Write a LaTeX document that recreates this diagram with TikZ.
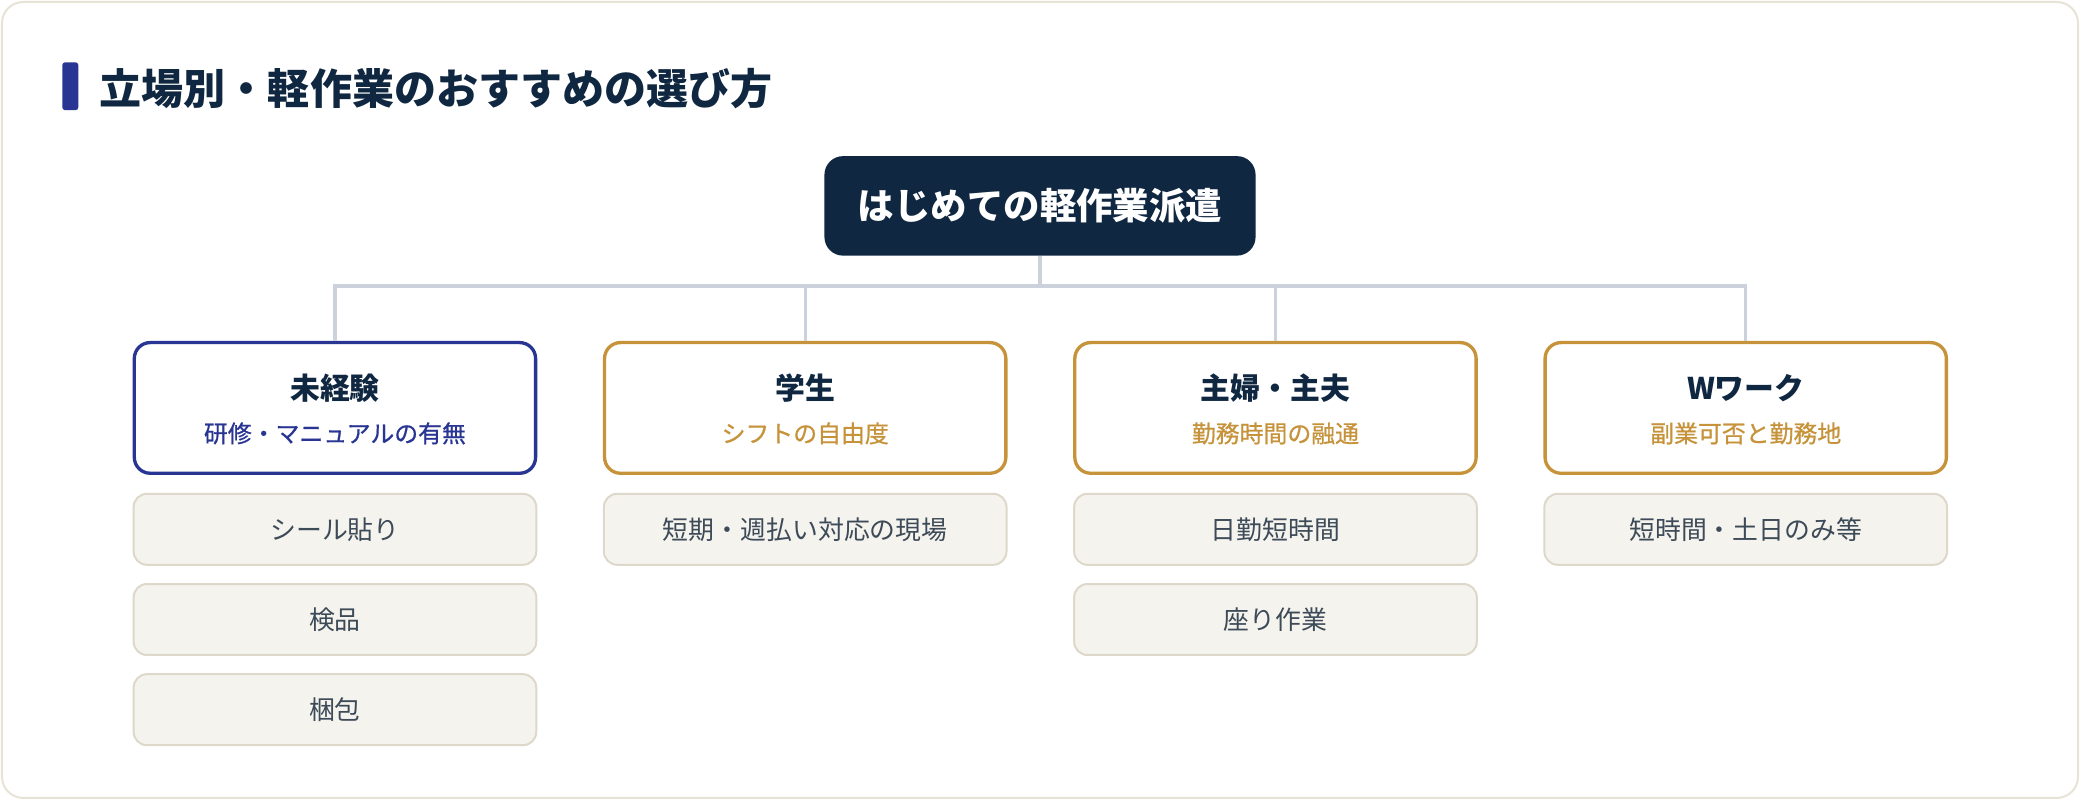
\documentclass[tikz,border=0pt]{standalone}
\usepackage{fontspec}
\setmainfont{Noto Sans CJK JP}
\definecolor{navy}{HTML}{0F2740}
\definecolor{indigo}{HTML}{283593}
\definecolor{gold}{HTML}{C6923A}
\definecolor{conn}{HTML}{CBD2DB}
\definecolor{itembg}{HTML}{F5F3EE}
\definecolor{itemline}{HTML}{DDD8C9}
\definecolor{itemtext}{HTML}{3D4A57}
\definecolor{frame}{HTML}{E7E3D7}
\tikzset{
  catbox/.style={draw, line width=2.5pt, rounded corners=12pt, fill=white, minimum width=302.5pt, minimum height=98.5pt, inner sep=0pt},
  cattitle/.style={text=navy, font=\fontsize{22.5}{26}\selectfont\bfseries, inner sep=0pt, anchor=center},
  catsub/.style={font=\fontsize{18}{21}\selectfont\addfontfeature{FakeBold=0.7}, inner sep=0pt, anchor=center},
  itembox/.style={draw=itemline, fill=itembg, line width=1.5pt, rounded corners=10pt, minimum width=303.5pt, minimum height=53.5pt, inner sep=0pt, text=itemtext, font=\fontsize{19.5}{22}\selectfont},
  link/.style={draw=conn, line width=2.5pt, line join=miter}
}
\begin{document}
\begin{tikzpicture}[x=1pt,y=-1pt]
\useasboundingbox (0,0) rectangle (1568,603);
\fill[white] (0,0) rectangle (1568,603);
\draw[frame, line width=1.5pt, rounded corners=16pt, fill=white] (1.5,1.5) rectangle (1566.5,601.5);
% title
\fill[indigo, rounded corners=2pt] (47,47) rectangle (59,83);
\node[anchor=west, inner sep=0pt, text=navy, font=\fontsize{31.7}{38}\selectfont\bfseries] (title) at (75,66.4) {立場別・軽作業のおすすめの選び方};
% root
\node[fill=navy, rounded corners=14pt, minimum width=325pt, minimum height=75pt, inner sep=0pt, text=white, font=\fontsize{27.5}{32}\selectfont\bfseries] (root) at (784,155.2) {はじめての軽作業派遣};
% categories
\node[catbox, draw=indigo] (c1) at (252.5,307.5) {};
\node[catbox, draw=gold] (c2) at (607,307.5) {};
\node[catbox, draw=gold] (c3) at (961.5,307.5) {};
\node[catbox, draw=gold] (c4) at (1316,307.5) {};
\node[cattitle] (t1) at (252.5,292.5) {未経験};
\node[cattitle] (t2) at (607,292.5) {学生};
\node[cattitle] (t3) at (961.5,292.5) {主婦・主夫};
\node[cattitle] (t4) at (1316,292.5) {Wワーク};
\node[catsub, text=indigo] (s1) at (252.5,326.7) {研修・マニュアルの有無};
\node[catsub, text=gold] (s2) at (607,326.7) {シフトの自由度};
\node[catsub, text=gold] (s3) at (961.5,326.7) {勤務時間の融通};
\node[catsub, text=gold] (s4) at (1316,326.7) {副業可否と勤務地};
% items
\node[itembox] (i11) at (252.5,399) {シール貼り};
\node[itembox] (i12) at (252.5,467) {検品};
\node[itembox] (i13) at (252.5,535) {梱包};
\node[itembox] (i21) at (607,399) {短期・週払い対応の現場};
\node[itembox] (i31) at (961.5,399) {日勤短時間};
\node[itembox] (i32) at (961.5,467) {座り作業};
\node[itembox] (i41) at (1316,399) {短時間・土日のみ等};
% connectors
\coordinate (j) at (784,215.5);
\path[link] (root.south) -- (j);
\path[link] (c1.north) |- (j);
\path[link] (c2.north) |- (j);
\path[link] (c3.north) |- (j);
\path[link] (c4.north) |- (j);
\end{tikzpicture}
\end{document}
